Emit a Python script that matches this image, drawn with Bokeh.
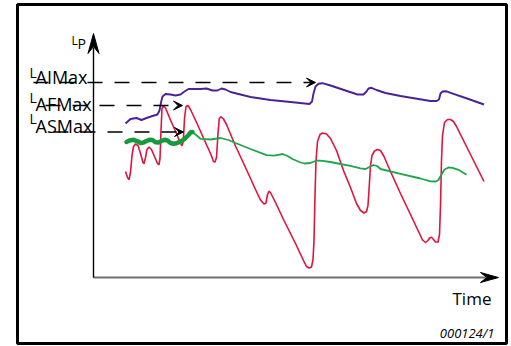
from bokeh.plotting import figure
from bokeh.models import Range1d, ColumnDataSource, Arrow, VeeHead
from bokeh.core.properties import value
from bokeh.embed import file_html
from bokeh.resources import INLINE

# ---------------- data (time, level) ----------------
# LAIMax running maximum (purple)
ai_t = [32, 37, 43, 48, 53, 59, 64, 66, 67.5, 69, 72, 77, 82, 87, 91, 95, 101, 107, 113, 119,
        124, 128, 132, 137, 147, 157, 177, 197, 216, 218.5, 220, 222, 225, 229, 237, 252, 264,
        270, 273, 275, 278, 283, 292, 307, 322, 337, 343, 345.5, 347, 349, 353, 360, 375, 390.5]
ai_l = [154, 158.5, 159.5, 157.5, 159.5, 161.5, 163, 167, 175, 181, 183.5, 183, 182, 183, 186,
        188.5, 188.5, 188.5, 189, 187, 187, 189, 188, 185.5, 183, 180.5, 177.5, 175.5, 173.5,
        176, 184, 191, 193.7, 194.3, 192, 187, 183, 183, 186, 189, 189.7, 187.5, 184.5, 181.5,
        179, 176.5, 176.5, 178, 184, 186, 186.2, 183.7, 178.5, 173]

# Fast time weighting (red)
af_t = [32, 34, 35.5, 37, 38.5, 40, 42, 44.5, 47, 49.5, 50.5, 52, 53.5, 55.5, 58, 61, 64, 65.5,
        66.5, 67.5, 68.5, 70, 72, 77, 83, 87, 88.5, 89.8, 91, 92.5, 94.5, 97, 104, 112, 117, 120,
        121.5, 123, 124.5, 125.8, 127.5, 130, 133, 142, 152, 162, 167, 170.5, 172.5, 174, 175.5,
        177, 182, 190, 202, 210, 213, 215.5, 218, 219.5, 220.5, 221.5, 222.5, 224, 226.5, 229,
        233, 237, 243, 250, 257, 263, 267, 270.5, 273, 274.5, 275.8, 277, 278.5, 281, 284, 287,
        290.5, 297, 307, 317, 325, 329, 332, 334.5, 336, 338, 340, 342, 344.5, 346, 347, 348,
        349, 351, 354, 357, 360, 363, 369, 377, 384, 390.5]
af_l = [106, 100, 98, 105, 122, 131, 133.5, 132, 124, 115, 114, 120, 128, 130.5, 128, 121, 114,
        113, 119, 147, 169, 171.5, 169.5, 157.5, 144, 134, 132, 136, 159, 171, 172, 168, 153, 135,
        124, 116, 115.5, 120, 144, 159, 160.7, 158.5, 153, 131.5, 110, 88, 77.5, 73.5, 74.5, 83,
        86.2, 85, 75, 58, 34, 17, 11, 9.5, 10.5, 18, 37, 82, 117, 136, 143, 144.5, 143.5, 139,
        127, 107, 90, 74, 67, 64.5, 66, 72, 92, 112, 122, 126.5, 128, 127, 121, 106, 84, 63, 46,
        37.5, 35, 37, 39.5, 40.2, 38, 35.5, 35.5, 43, 72, 117, 142, 155, 158, 158, 156, 151, 139,
        123, 109, 96]

# Slow time weighting (green)
as_t = [95, 98.5, 102, 107, 117, 127, 135, 142, 157, 173, 180, 185, 189, 194, 199, 207, 211, 217,
        223, 229, 237, 247, 257, 267, 272, 276, 280, 283.5, 287, 307, 327, 337, 342, 345, 348,
        351, 355, 359, 365, 373]
as_l = [143, 145.5, 143, 138.7, 138, 139.5, 137.5, 134.5, 128.5, 122.3, 121.8, 122.7, 123.5,
        121.5, 118.5, 115, 114, 114.5, 117, 116.7, 115.5, 113.5, 111.7, 109.2, 108.5, 110.5,
        112.5, 111.5, 108.5, 103.7, 99, 96.2, 96, 97.5, 103, 108, 110, 109.7, 107.7, 102.7]

# Slow, start phase (thick green)
as0_t = [33, 36, 40, 44, 47, 50, 53, 56, 59, 62, 65, 68, 71, 74, 77, 80, 83, 86, 89, 92, 95, 97, 99]
as0_l = [135.5, 137, 137.7, 136.2, 134.5, 135, 136.5, 137.7, 137.5, 135.2, 135, 136.5, 137.7,
         137, 134.5, 133.8, 134.3, 135.5, 137, 139.5, 142.5, 145, 145.5]

# Maximum levels and their labels
max_names = ["AIMax", "AFMax", "ASMax"]
max_levels = [195, 172, 145.5]
max_from_t = [-60, -48, -40]
max_to_t = [222, 89, 90]

# ---------------- figure ----------------
p = figure(width=511, height=346, x_range=Range1d(-76, 413), y_range=Range1d(-66, 273),
           output_backend="svg", toolbar_location=None,
           x_axis_location=None, y_axis_location=None,
           min_border_left=17, min_border_right=5, min_border_top=4, min_border_bottom=3)
p.grid.grid_line_color = None
p.outline_line_color = "black"
p.outline_line_width = 3
p.background_fill_color = "white"
p.border_fill_color = "white"

FONT = value("Open Sans")

# axes (drawn)
X_END = 405
Y_END = 244
p.line([0, X_END - 12], [0, 0], line_color="#6f6f6f", line_width=2.2)
p.line([0, 0], [0, Y_END - 14], line_color="black", line_width=1.4)


def vee(tip_x, tip_y, dx, dy, length, width, notch=0.35):
    px, py = -dy, dx
    bx, by = tip_x - dx * length, tip_y - dy * length
    nx, ny = tip_x - dx * length * (1 - notch), tip_y - dy * length * (1 - notch)
    xs = [tip_x, bx + px * width / 2, nx, bx - px * width / 2]
    ys = [tip_y, by + py * width / 2, ny, by - py * width / 2]
    return xs, ys


hx, hy = vee(X_END, 0, 1, 0, 18, 10)
p.patch(hx, hy, color="black")
hx, hy = vee(0, Y_END, 0, 1, 20, 11)
p.patch(hx, hy, color="black")

# curves
p.line(af_t, af_l, line_color="#e0143c", line_width=1.6, line_join="round")
p.line(ai_t, ai_l, line_color="#4b2296", line_width=1.9, line_join="round")
p.line(as_t, as_l, line_color="#1fa64a", line_width=1.8, line_join="round")
p.line(as0_t, as0_l, line_color="#169a3c", line_width=4.5, line_join="round", line_cap="round")

# dashed arrows to the maxima
arr_src = ColumnDataSource(dict(x0=max_from_t, x1=max_to_t, y=max_levels))
p.add_layout(Arrow(source=arr_src, x_start="x0", y_start="y", x_end="x1", y_end="y",
                   line_color="black", line_width=1.5, line_dash="15 12",
                   end=VeeHead(size=9, fill_color="black", line_color="black", line_width=1)))

# level labels
big_src = ColumnDataSource(dict(x=[-58, -58, -58], y=[200.3, 173.7, 152], t=max_names))
p.text(x="x", y="y", text="t", source=big_src, text_font=FONT, text_font_size="18px",
       text_baseline="alphabetic", text_align="left", text_color="black")
lsrc = ColumnDataSource(dict(x=[-64, -64, -64], y=[205.3, 180.3, 159], t=["L", "L", "L"]))
p.text(x="x", y="y", text="t", source=lsrc, text_font=FONT, text_font_size="14px",
       text_baseline="alphabetic", text_align="left", text_color="black")

# axis titles
p.text(x=[-22], y=[237], text=["L"], text_font=FONT, text_font_size="12px",
       text_baseline="alphabetic", text_align="left", text_color="black")
p.text(x=[-16], y=[234.3], text=["P"], text_font=FONT, text_font_size="14px",
       text_baseline="alphabetic", text_align="left", text_color="black")
p.text(x=[359], y=[-21.3], text=["Time"], text_font=FONT, text_font_size="17px",
       text_baseline="alphabetic", text_align="left", text_color="black")
p.text(x=[401], y=[-55], text=["000124/1"], text_font=FONT, text_font_size="13px",
       text_font_style="italic", text_baseline="alphabetic", text_align="right",
       text_color="black")

open("out.html", "w").write(file_html(p, INLINE))
